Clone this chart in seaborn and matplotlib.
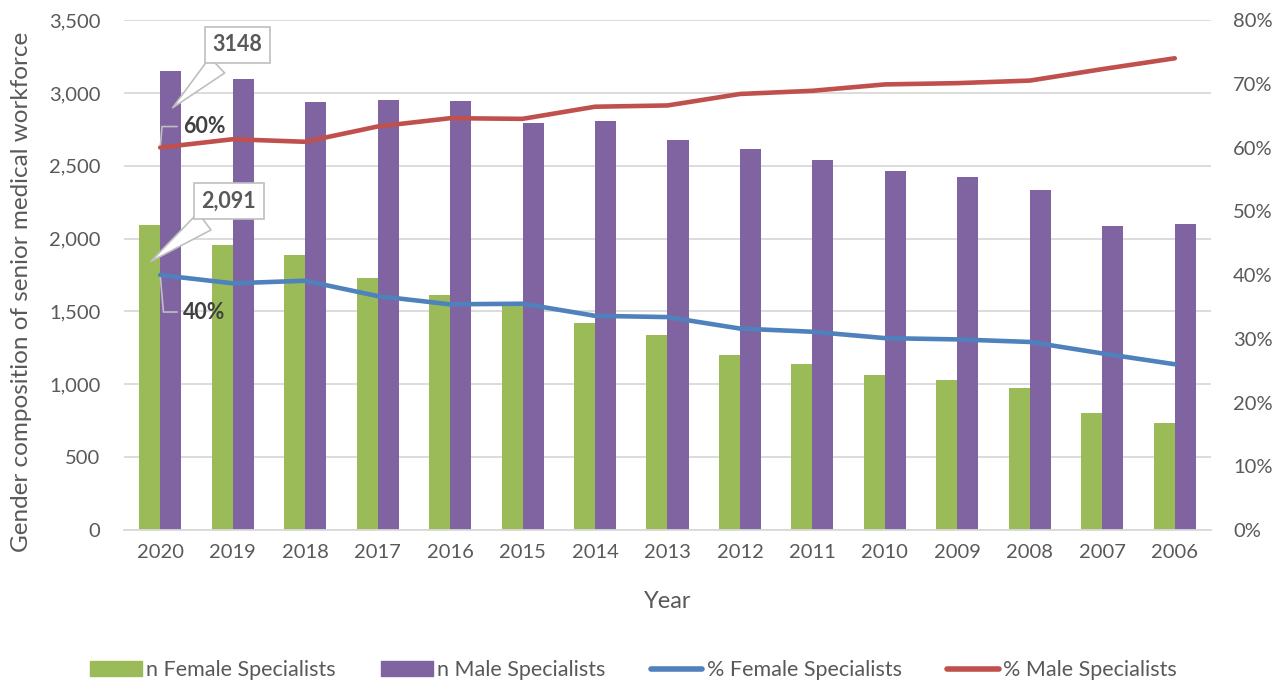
import numpy as np
import pandas as pd
import seaborn as sns
import matplotlib.pyplot as plt
from matplotlib.ticker import FuncFormatter
from matplotlib.lines import Line2D
from matplotlib.patches import Patch

# Values
years = ['2020', '2019', '2018', '2017', '2016', '2015', '2014', '2013',
         '2012', '2011', '2010', '2009', '2008', '2007', '2006']
n_female = [2091, 1956, 1887, 1730, 1611, 1545, 1419, 1338,
            1203, 1139, 1062, 1029, 975, 801, 737]
n_male = [3148, 3095, 2935, 2954, 2942, 2796, 2805, 2677,
          2613, 2540, 2464, 2421, 2332, 2087, 2103]
pct_female = [40.0, 38.7, 39.1, 36.7, 35.4, 35.5, 33.6, 33.4,
              31.6, 31.1, 30.1, 29.9, 29.5, 27.7, 26.0]
pct_male = [60.0, 61.3, 60.9, 63.3, 64.6, 64.5, 66.4, 66.6,
            68.4, 68.9, 69.9, 70.1, 70.5, 72.3, 74.0]

series = ['n Female Specialists', 'n Male Specialists',
          '% Female Specialists', '% Male Specialists']
colors = ['#9BBB59', '#8064A2', '#4F81BD', '#C0504D']
text_col = '#595959'

df = pd.DataFrame({
    'Year': years * 2,
    'Series': [series[0]] * len(years) + [series[1]] * len(years),
    'Count': n_female + n_male,
})

sns.set_theme(style='white')
plt.rcParams['font.family'] = ['Lato', 'DejaVu Sans']

fig = plt.figure(figsize=(12.86, 6.86), dpi=100)
ax = fig.add_axes([0.0964, 0.2274, 0.8453, 0.7434])

sns.barplot(data=df, x='Year', y='Count', hue='Series', order=years,
            hue_order=series[:2], palette=colors[:2], width=0.58,
            gap=0, linewidth=0, saturation=1, ax=ax, legend=False)

ax2 = ax.twinx()
xpos = np.arange(len(years))
sns.lineplot(x=xpos, y=pct_female, ax=ax2, color=colors[2], lw=3.3,
             solid_capstyle='round')
sns.lineplot(x=xpos, y=pct_male, ax=ax2, color=colors[3], lw=3.3,
             solid_capstyle='round')

ax.set_xlim(-0.5, len(years) - 0.5)
ax.set_ylim(0, 3500)
ax.set_yticks(np.arange(0, 3501, 500))
ax.yaxis.set_major_formatter(FuncFormatter(lambda v, p: f'{int(v):,}'))
ax2.set_ylim(0, 80)
ax2.set_yticks(np.arange(0, 81, 10))
ax2.yaxis.set_major_formatter(FuncFormatter(lambda v, p: f'{int(v)}%'))

ax.set_axisbelow(True)
ax.yaxis.grid(True, color='#d9d9d9', lw=1.3)
ax2.grid(False)
for a in (ax, ax2):
    for s in a.spines.values():
        s.set_visible(False)
    a.tick_params(length=0, labelsize=14.5, colors=text_col)
ax.spines['bottom'].set_visible(True)
ax.spines['bottom'].set_color('#d9d9d9')
ax.spines['bottom'].set_linewidth(1.3)
ax.tick_params(axis='x', pad=10)
ax.tick_params(axis='y', pad=17)
ax2.tick_params(axis='y', pad=16)

ax.set_xlabel('Year', fontsize=17, color=text_col, labelpad=22)
ax.set_ylabel('Gender composition of senior medical workforce', fontsize=17.5,
              color=text_col)
ax.yaxis.set_label_coords(-0.085, 0.467)
ax2.set_ylabel('')

# callouts on the 2020 values
box = dict(boxstyle='square,pad=0.35', fc='white', ec='#bfbfbf', lw=1.2)
ax.annotate(f'{n_male[0]}', xy=(0.145, 2885), xytext=(67, 65),
            textcoords='offset pixels', ha='center', va='center',
            fontsize=15.5, fontweight='bold', color=text_col, bbox=box,
            arrowprops=dict(arrowstyle='wedge,tail_width=1.0', fc='white',
                            ec='#bfbfbf', lw=1.2, relpos=(0.3, 0.0)))
ax.annotate(f'{n_female[0]:,}', xy=(-0.16, 1832), xytext=(80, 62),
            textcoords='offset pixels', ha='center', va='center',
            fontsize=15.5, fontweight='bold', color=text_col, bbox=box,
            arrowprops=dict(arrowstyle='wedge,tail_width=1.0', fc='white',
                            ec='#bfbfbf', lw=1.2, relpos=(0.3, 0.0)))
ax2.annotate(f'{pct_male[0]:.0f}%', xy=(0, pct_male[0]), xytext=(23, 21),
             textcoords='offset pixels', ha='left', va='center',
             fontsize=15.5, fontweight='bold', color='#404040',
             arrowprops=dict(arrowstyle='-', color='#bfbfbf', lw=1.2,
                             relpos=(0.0, 0.5),
                             connectionstyle='angle,angleA=0,angleB=85,rad=0'))
ax2.annotate(f'{pct_female[0]:.0f}%', xy=(0, pct_female[0]), xytext=(23, -37),
             textcoords='offset pixels', ha='left', va='center',
             fontsize=15.5, fontweight='bold', color='#404040',
             arrowprops=dict(arrowstyle='-', color='#bfbfbf', lw=1.2,
                             relpos=(0.0, 0.5),
                             connectionstyle='angle,angleA=0,angleB=95,rad=0'))

handles = [Patch(color=colors[0]), Patch(color=colors[1]),
           Line2D([], [], color=colors[2], lw=4, solid_capstyle='round'),
           Line2D([], [], color=colors[3], lw=4, solid_capstyle='round')]
fig.legend(handles, series, loc='center', bbox_to_anchor=(0.4926, 0.023),
           ncol=4, frameon=False, fontsize=15.5, labelcolor=text_col,
           handlelength=2.4, handleheight=0.7, handletextpad=0.2,
           columnspacing=2.1)

fig.savefig('out.png', dpi=100)
